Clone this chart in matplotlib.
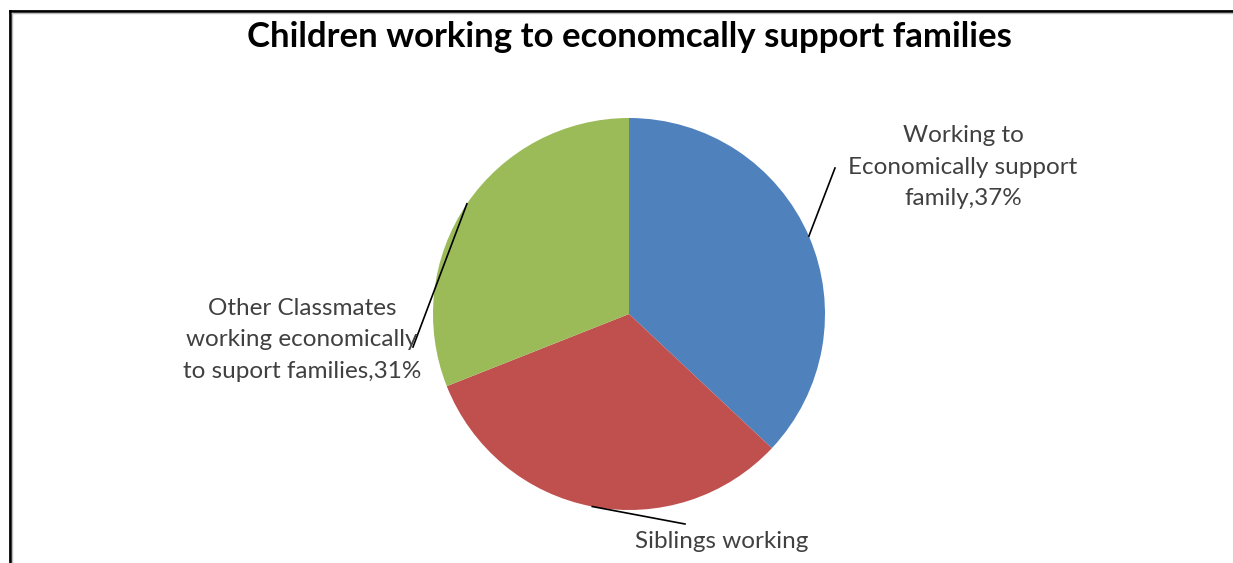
import numpy as np
import matplotlib.pyplot as plt
from matplotlib.lines import Line2D

plt.rcParams['font.family'] = ['Lato', 'DejaVu Sans']

# slice data, clockwise from 12 o'clock
labels = ["Working to\nEconomically support\nfamily,37%",
          "Siblings working",
          "Other Classmates\nworking economically\nto suport families,31%"]
shares = [37, 32, 31]
colors = ["#4F81BD", "#C0504D", "#9BBB59"]

W, H = 1233, 563
fig = plt.figure(figsize=(W / 100, H / 100), dpi=100)
ax = fig.add_axes([0, 0, 1, 1])

cx, cy, R = 629, H - 314, 196
wedges, _ = ax.pie(shares, colors=colors, startangle=90, counterclock=False,
                   center=(cx, cy), radius=R, wedgeprops=dict(linewidth=0))
ax.set_xlim(0, W)
ax.set_ylim(0, H)
ax.set_aspect('equal')
ax.axis('off')

# label positions (text anchor, leader line end) in pixels
text_pos = [(963, H - 167), (722, H - 542), (302, H - 340)]
line_end = [(835, H - 168), (685, H - 524), (413, H - 347)]

for w, lab, tp, le in zip(wedges, labels, text_pos, line_end):
    mid = np.deg2rad((w.theta1 + w.theta2) / 2)
    x0, y0 = cx + R * np.cos(mid), cy + R * np.sin(mid)
    ax.plot([x0, le[0]], [y0, le[1]], color="black", lw=1.2)
    ax.text(tp[0], tp[1], lab, ha="center", va="center", fontsize=17.5,
            color="#404040", linespacing=1.6)

ax.text(629, H - 37, "Children working to economcally support families",
        ha="center", va="center", fontsize=25, fontweight="bold", color="black")

# chart frame (top and left edges)
fig.add_artist(Line2D([10 / W, 1], [1 - 11 / H, 1 - 11 / H], color="black", lw=2))
fig.add_artist(Line2D([10 / W, 10 / W], [0, 1 - 11 / H], color="black", lw=2))
fig.add_artist(Line2D([12 / W, 1], [1 - 13 / H, 1 - 13 / H], color="#bbbbbb", lw=1))
fig.add_artist(Line2D([12 / W, 12 / W], [0, 1 - 13 / H], color="#bbbbbb", lw=1))

fig.savefig("out.png", dpi=100, facecolor="white")
